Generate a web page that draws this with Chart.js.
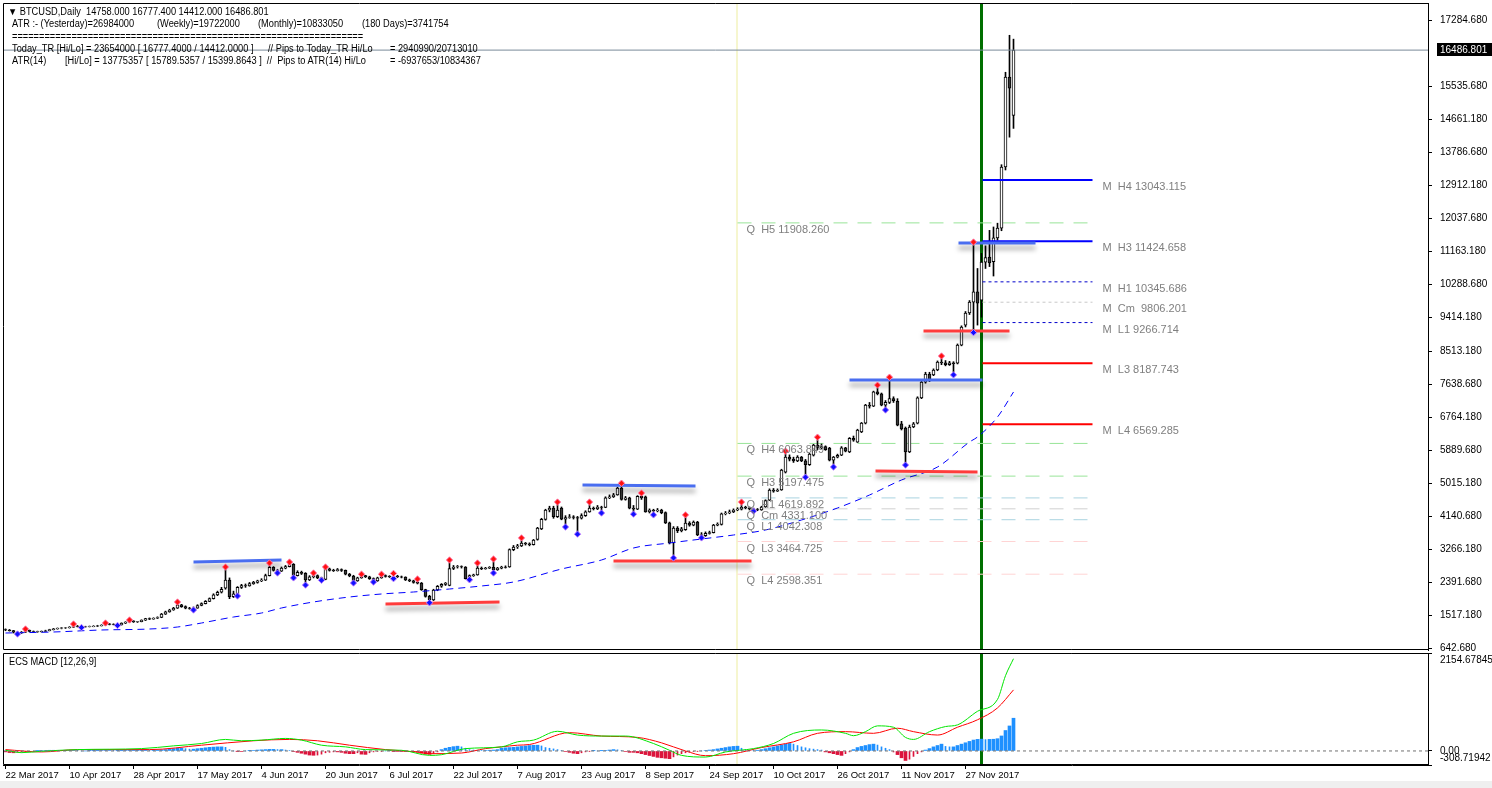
<!DOCTYPE html>
<html><head><meta charset="utf-8">
<script src="https://cdn.jsdelivr.net/npm/chart.js@4.4.1/dist/chart.umd.min.js"></script>
<style>
html,body{margin:0;padding:0;background:#fff;width:1492px;height:788px;overflow:hidden;position:relative;font-family:'Liberation Sans',Arial,sans-serif;}
#c1{position:absolute;left:0;top:0;}
#c2{position:absolute;left:0;top:652px;}
.t{position:absolute;font-size:10px;color:#000;white-space:pre;line-height:12px;transform:scaleX(0.925);transform-origin:0 0;}
#band{position:absolute;left:0;top:781px;width:1492px;height:7px;background:#efefef;}
</style></head><body>
<canvas id="c1" width="1492" height="652"></canvas>
<canvas id="c2" width="1492" height="136"></canvas>
<div id="band"></div>
<div class="t" style="left:8px;top:6px">▼ BTCUSD,Daily  14758.000 16777.400 14412.000 16486.801</div>
<div class="t" style="left:12px;top:18px">ATR :- (Yesterday)=26984000</div>
<div class="t" style="left:157px;top:18px">(Weekly)=19722000</div>
<div class="t" style="left:258px;top:18px">(Monthly)=10833050</div>
<div class="t" style="left:362px;top:18px">(180 Days)=3741754</div>
<div class="t" style="left:12px;top:31px">=================================================================</div>
<div class="t" style="left:12px;top:43px">Today_TR [Hi/Lo] = 23654000 [ 16777.4000 / 14412.0000 ]</div>
<div class="t" style="left:268px;top:43px">// Pips to Today_TR Hi/Lo</div>
<div class="t" style="left:390px;top:43px">= 2940990/20713010</div>
<div class="t" style="left:12px;top:55px">ATR(14)</div>
<div class="t" style="left:65px;top:55px">[Hi/Lo] = 13775357 [ 15789.5357 / 15399.8643 ]  //  Pips to ATR(14) Hi/Lo</div>
<div class="t" style="left:390px;top:55px">= -6937653/10834367</div>
<div class="t" style="left:9px;top:656px">ECS MACD [12,26,9]</div>
<script>
// ---------------- DATA ----------------
const dateLabels = ['22 Mar 2017','10 Apr 2017','28 Apr 2017','17 May 2017','4 Jun 2017','20 Jun 2017','6 Jul 2017','22 Jul 2017','7 Aug 2017','23 Aug 2017','8 Sep 2017','24 Sep 2017','10 Oct 2017','26 Oct 2017','11 Nov 2017','27 Nov 2017'];
const dateTickIdx = [0,16,32,48,64,80,96,112,128,144,160,176,192,208,224,240];
const priceTicks = [17284.680,15535.680,14661.180,13786.680,12912.180,12037.680,11163.180,10288.680,9414.180,8513.180,7638.680,6764.180,5889.680,5015.180,4140.680,3266.180,2391.680,1517.180,642.680];
const lastPrice = 16486.801;

const opens = [1130,1120,1105,1060,1040,1060,1110,1080,1070,1075, 1085,1100,1130,1150,1165,1175,1180,1195,1220,1215, 1200,1205,1210,1220,1230,1245,1280,1270,1265,1255, 1300,1330,1360,1335,1340,1380,1420,1410,1430,1450, 1540,1600,1650,1700,1790,1740,1700,1690,1700,1770, 1820,1880,1950,2050,2120,2230,2440,2000,2080,2250, 2300,2290,2350,2380,2420,2440,2560,2780,2700,2680, 2760,2800,2860,2560,2650,2620,2450,2530,2560,2500, 2460,2740,2700,2690,2720,2700,2600,2550,2420,2500, 2560,2530,2480,2420,2500,2560,2540,2530,2550,2530, 2520,2450,2420,2380,2360,2190,2010,1920,2180,2280, 2330,2300,2750,2790,2800,2790,2480,2560,2580,2760, 2740,2760,2780,2720,2760,2790,2790,3250,3320,3350, 3420,3400,3380,3520,3800,4050,4300,4350,4120,4350, 4060,4100,4120,4100,4080,4150,4250,4350,4330,4380, 4370,4620,4650,4700,4880,4580,4620,4350,4320,4660, 4650,4250,4300,4280,4300,4230,3960,3430,3820,3750, 3780,3950,3900,3980,3640,3620,3680,3700,3900,3920, 4200,4220,4250,4300,4320,4380,4360,4330,4310,4300, 4380,4560,4830,4800,4830,5300,5700,5650,5600,5700, 5600,5500,5750,6020,5950,5980,5940,5620,5700,5750, 5950,5840,6200,6100,6370,6600,7080,7050,7430,7380, 7080,7150,7250,7180,6580,6470,5840,6500,6600,7270, 7690,7900,7880,8010,8220,8200,8150,8200,8190,8670, 9200,9520,9810,10080,9860,10870,11000,10880,11510,11770, 13390,15770,14758];
const highs = [1150,1135,1110,1075,1080,1146,1120,1095,1090,1095, 1115,1140,1160,1175,1185,1190,1210,1278,1240,1225, 1220,1225,1235,1245,1260,1305,1290,1285,1275,1310, 1340,1385,1365,1350,1390,1430,1440,1445,1470,1560, 1620,1670,1720,1861,1800,1760,1720,1730,1790,1840, 1900,1970,2080,2150,2250,2790,2500,2150,2270,2330, 2340,2380,2410,2440,2480,2600,2895,2800,2730,2790, 2830,2920,2880,2690,2680,2640,2560,2630,2580,2520, 2790,2760,2730,2750,2740,2710,2620,2570,2520,2600, 2570,2545,2500,2520,2600,2580,2560,2620,2570,2550, 2530,2470,2440,2470,2380,2200,2040,2200,2300,2350, 2380,2975,2830,2830,2820,2800,2580,2600,2895,2790, 2780,2800,3000,2780,2810,2820,3270,3360,3390,3560, 3440,3430,3520,3840,4080,4320,4400,4400,4510,4380, 4150,4180,4150,4130,4200,4280,4510,4380,4420,4400, 4650,4700,4740,4900,5010,4660,4640,4420,4680,4750, 4670,4330,4320,4340,4320,4250,3980,3860,3860,3840, 4170,3990,4010,4000,3700,3720,3740,3920,3960,4220, 4260,4300,4330,4360,4510,4400,4380,4350,4340,4400, 4570,4860,4870,4860,5380,5860,5760,5700,5740,5720, 5640,5800,6040,6230,6050,6000,5960,5720,5780,5980, 5960,6220,6260,6440,6620,7100,7150,7450,7610,7400, 7200,7820,7300,7250,6650,6500,6550,6620,7300,7720, 7950,7950,8040,8250,8380,8260,8240,8230,8700,9180, 9560,9850,11400,10700,11100,11300,11710,11800,11900,13450, 15900,16880,16777.4];
const lows = [1100,1090,1040,1013,1030,1050,1070,1055,1060,1065, 1080,1095,1120,1140,1150,1160,1170,1185,1200,1185, 1195,1200,1205,1210,1225,1240,1255,1255,1240,1250, 1290,1320,1320,1320,1335,1370,1395,1405,1420,1445, 1530,1590,1640,1690,1720,1680,1670,1650,1695,1760, 1810,1870,1940,2030,2100,2200,1950,1980,2020,2220, 2250,2280,2330,2360,2400,2430,2550,2680,2630,2670, 2740,2790,2500,2550,2590,2310,2430,2500,2480,2440, 2450,2680,2670,2680,2670,2580,2530,2365,2410,2490, 2510,2460,2390,2410,2490,2520,2510,2480,2510,2500, 2430,2400,2360,2340,2170,1990,1840,1900,2160,2250, 2300,2290,2720,2760,2760,2470,2450,2540,2570,2720, 2730,2750,2630,2700,2740,2760,2780,3220,3280,3330, 3370,3350,3370,3500,3780,4030,4250,4080,4100,4040, 3850,4080,4060,3660,4060,4130,4240,4300,4310,4220, 4360,4600,4630,4690,4560,4560,4330,4190,4310,4580, 4240,4220,4170,4250,4200,3940,3400,3030,3700,3720, 3760,3870,3880,3620,3560,3600,3660,3690,3880,3900, 4170,4200,4230,4280,4300,4330,4300,4270,4280,4290, 4370,4550,4770,4790,4820,5280,5600,5560,5580,5580, 5170,5480,5730,5900,5920,5880,5600,5440,5680,5740, 5840,5820,6120,6090,6350,6580,7000,7040,7350,7060, 6950,7120,7150,6530,6420,5490,5820,6480,6580,7250, 7660,7700,7860,7990,8150,8120,8130,7880,8170,8650, 9150,9480,9000,9200,9410,10700,10750,10500,11450,11700, 13310,14180,14412];
const closes = [1120,1105,1060,1040,1060,1110,1080,1070,1075,1085, 1100,1130,1150,1165,1175,1180,1195,1220,1215,1200, 1205,1210,1220,1230,1245,1280,1270,1265,1255,1300, 1330,1360,1335,1340,1380,1420,1410,1430,1450,1540, 1600,1650,1700,1790,1740,1700,1690,1700,1770,1820, 1880,1950,2050,2120,2200,2440,2000,2080,2250,2300, 2290,2350,2380,2420,2440,2560,2780,2700,2680,2760, 2800,2870,2560,2650,2620,2450,2530,2560,2500,2460, 2740,2700,2690,2720,2700,2600,2550,2420,2500,2560, 2530,2480,2420,2500,2560,2540,2530,2550,2530,2520, 2450,2420,2380,2360,2190,2010,1920,2180,2280,2330, 2360,2750,2790,2800,2790,2480,2560,2580,2760,2740, 2760,2780,2720,2760,2790,2780,3250,3320,3350,3420, 3400,3380,3500,3820,4050,4300,4350,4120,4300,4060, 4100,4120,4100,4080,4150,4250,4350,4330,4380,4370, 4620,4650,4700,4880,4580,4620,4350,4320,4660,4620, 4250,4300,4280,4300,4230,3960,3430,3820,3750,3800, 3950,3900,3980,3640,3620,3680,3700,3900,3920,4200, 4220,4250,4300,4320,4380,4360,4330,4310,4300,4380, 4550,4830,4800,4820,5360,5700,5650,5600,5700,5600, 5500,5780,6020,5950,5980,5900,5620,5700,5750,5950, 5860,6200,6150,6420,6600,7080,7050,7430,7380,7080, 7150,7250,7200,6550,6450,5840,6500,6580,7270,7690, 7900,7750,8010,8220,8200,8150,8200,8180,8670,9150, 9520,9810,10080,9780,10870,10990,10850,11510,11770,13390, 15770,15480,16486.801];

const redFractals = [5,17,25,31,43,55,66,71,77,80,89,94,97,103,111,118,122,129,138,146,154,159,170,184,195,203,218,221,234,242];
const blueFractals = [3,19,28,47,58,68,72,75,79,87,92,97,106,116,122,140,143,149,157,162,167,174,187,200,207,220,225,237,242];

const maIdx  = [0,12,24,36,43,49,57,64,69,77,86,94,102,111,119,127,139,149,157,166,174,182,190,199,208,216,224,233,241,243,248,252];
const maVals = [1040,1067,1120,1146,1199,1305,1464,1570,1703,1862,1994,2074,2127,2206,2286,2392,2736,2975,3293,3425,3531,3637,3770,4035,4353,4697,5095,5439,6102,6234,6764,7427];

// support / resistance segments
const srStartIdx   = [47, 95, 144.25, 152, 211, 217.5, 229.5, 238.25];
const srEndIdx     = [69, 123.5, 172.5, 186.5, 244.25, 243, 251, 257.5];
const srStartPrice = [2921, 1810, 4962, 2948, 7745, 5333, 9043, 11375];
const srEndPrice   = [2975, 1863, 4936, 2948, 7745, 5307, 9043, 11375];
const srKind       = ['res','sup','res','sup','res','sup','sup','res'];

// pivot levels
const mLevelNames  = ['H4','H3','H1','Cm','L1','L3','L4'];
const mLevelValues = [13043.115,11424.658,10345.686,9806.201,9266.714,8187.743,6569.285];
const mLevelLabels = ['M  H4 13043.115','M  H3 11424.658','M  H1 10345.686','M  Cm  9806.201','M  L1 9266.714','M  L3 8187.743','M  L4 6569.285'];
const mLevelRange  = [244.25, 271.75];
const qLevelNames  = ['H5','H4','H3','H1','Cm','L1','L3','L4'];
const qLevelValues = [11908.260,6063.849,5197.475,4619.892,4331.100,4042.308,3464.725,2598.351];
const qLevelLabels = ['Q  H5 11908.260','Q  H4 6063.849','Q  H3 5197.475','Q  H1 4619.892','Q  Cm 4331.100','Q  L1 4042.308','Q  L3 3464.725','Q  L4 2598.351'];
const qLevelRange  = [183, 271.25];

const greenLineIdx = 243.75;
const yellowLineIdx = 183;

// MACD
const macdIdx  = [0,4,9,18,34,42,49,55,59,64,70,74,79,85,90,99,106,109,115,124,128,132,138,143,149,155,162,166,169,175,180,187,192,197,204,210,212,215,218,222,225,227,231,235,238,243,248,250,252];
const macdVals = [15,-37,-7,30,52,112,164,254,224,239,276,239,127,90,30,15,-97,-82,52,90,201,239,433,350,328,328,164,15,-97,-134,-22,52,164,388,462,388,336,425,552,522,298,254,425,537,574,873,1134,1656,2029];
const sigIdx   = [0,9,18,36,49,62,71,78,86,95,103,106,114,120,124,128,131,141,149,158,164,170,175,182,189,197,203,210,217,223,227,233,238,243,248,252];
const sigVals  = [30,-22,30,30,127,224,254,224,127,30,-22,-60,-45,52,90,127,142,403,328,298,179,0,-104,-60,75,201,388,425,388,500,425,350,522,686,947,1343];
const histVals = [-20,-35,-40,-30,-25,-15,-10,-5,5,10, 10,15,15,10,5,5,10,10,5,0, 0,5,5,5,10,10,10,5,5,5, 10,15,20,20,25,25,20,20,20,25, 30,40,50,60,60,50,40,40,50,60, 70,80,85,90,90,80,30,0,-5,-10, 0,5,10,20,25,30,35,35,30,30, 20,10,-10,-30,-50,-70,-90,-95,-90,-70, -40,-30,-20,-20,-30,-50,-60,-60,-40,-70, -75,-40,-20,-10,-5,0,5,-5,-10,-10, -10,-15,-20,-30,-50,-70,-75,-50,-20,30, 60,80,95,105,90,60,30,20,15,10, 10,15,20,30,60,70,75,80,90,100, 110,120,125,127,110,75,60,45,30,10, -10,-30,-50,-60,-40,-20,-5,5,0,5, 10,20,30,25,10,-10,-30,-30,-40,-60, -80,-100,-120,-140,-150,-160,-170,-130,-90,-60, -40,-20,-10,-5,0,10,20,30,45,60, 75,90,100,105,60,30,15,10,15,30, 50,70,90,110,130,150,165,150,120,90, 70,50,40,30,20,-20,-40,-60,-80,-97, -60,-20,30,75,100,120,140,150,130,90, 60,30,-22,-80,-150,-209,-180,-120,-60,-20, 20,52,90,120,150,100,90,90,120,150, 180,210,240,255,260,250,255,258,270,330, 450,550,720];
const macdMin = -308.71942, macdMax = 2154.67845;

// ---------------- CHART ----------------
const FONT = "'Liberation Sans', Arial, sans-serif";
Chart.defaults.font.family = FONT;
Chart.defaults.color = '#000';
const X_MIN = -0.625, X_MAX = 355.625;
const N = closes.length;
const idx = [...Array(N).keys()];

const shadowPlugin = {
  id:'shadowPlugin',
  beforeDatasetDraw(chart, args){ const ds = chart.data.datasets[args.index]; if(ds.shadow){ const c = chart.ctx; c.save(); c.shadowColor='rgba(0,0,0,0.38)'; c.shadowBlur=5; c.shadowOffsetY=5; } },
  afterDatasetDraw(chart, args){ const ds = chart.data.datasets[args.index]; if(ds.shadow){ chart.ctx.restore(); } }
};

function vlines(chart){
  const {ctx, chartArea:a, scales:{x}} = chart;
  ctx.save();
  const xy = x.getPixelForValue(yellowLineIdx);
  ctx.fillStyle = '#f6f6cf'; ctx.fillRect(Math.round(xy)-1, a.top, 2, a.bottom-a.top);
  const xg = x.getPixelForValue(greenLineIdx);
  ctx.fillStyle = '#006f00'; ctx.fillRect(Math.round(xg)-1, a.top, 3, a.bottom-a.top);
  ctx.restore();
}
function frame(chart){
  const {ctx, chartArea:a} = chart;
  ctx.save(); ctx.strokeStyle='#000'; ctx.lineWidth=1;
  ctx.beginPath();
  ctx.moveTo(a.right, a.top+0.5); ctx.lineTo(a.left+0.5, a.top+0.5); ctx.lineTo(a.left+0.5, a.bottom-0.5); ctx.lineTo(a.right, a.bottom-0.5);
  ctx.stroke(); ctx.restore();
}
function noPad(s){ s.paddingTop = 0; s.paddingBottom = 0; s.paddingLeft = 0; s.paddingRight = 0; }

const mainDeco = {
  id:'mainDeco',
  beforeDatasetsDraw(chart){ vlines(chart); },
  afterDraw(chart){
    const {ctx, chartArea:a, scales:{x, y}} = chart;
    frame(chart);
    ctx.save();
    ctx.textBaseline = 'middle'; ctx.textAlign='left';
    ctx.font = '10px ' + FONT; ctx.fillStyle = '#000';
    priceTicks.forEach(v => ctx.fillText(v.toFixed(3), a.right + 12, y.getPixelForValue(v)));
    ctx.font = '11px ' + FONT; ctx.fillStyle = '#7f7f7f';
    mLevelValues.forEach((v,k)=>{ ctx.fillText(mLevelLabels[k], x.getPixelForValue(mLevelRange[1]) + 10, y.getPixelForValue(v) + 7); });
    qLevelValues.forEach((v,k)=>{ ctx.fillText(qLevelLabels[k], x.getPixelForValue(qLevelRange[0]) + 9, y.getPixelForValue(v) + 7); });
    const yp = Math.round(y.getPixelForValue(lastPrice));
    ctx.fillStyle = '#000'; ctx.fillRect(a.right + 9, yp - 7, chart.width - a.right - 9, 13);
    ctx.fillStyle = '#fff'; ctx.font = '10px ' + FONT; ctx.fillText(lastPrice.toFixed(3), a.right + 12, yp);
    ctx.restore();
  }
};

function mStyle(n){
  if(n==='H4'||n==='H3') return {c:'#0000ff', w:2, d:[]};
  if(n==='H1'||n==='L1') return {c:'#0000cc', w:1, d:[3,3]};
  if(n==='Cm') return {c:'#c8c8c8', w:1, d:[3,3]};
  return {c:'#ff0000', w:2, d:[]};
}
function qStyle(n){
  if(n==='H5'||n==='H4'||n==='H3') return '#98e498';
  if(n==='H1'||n==='L1') return '#a9d4e0';
  if(n==='Cm') return '#d0d0d0';
  return '#ffd4d4';
}

const mainDatasets = [];
mainDatasets.push({type:'bar', data: idx.map(i=>({x:i, y:[lows[i], highs[i]]})), backgroundColor:'#000', borderWidth:0, barThickness:1, grouped:false, order:20});
mainDatasets.push({type:'bar', data: idx.map(i=>({x:i, y:[opens[i], closes[i]]})),
  backgroundColor: c => closes[c.dataIndex] >= opens[c.dataIndex] ? '#ffffff' : '#3a3a3a',
  borderColor:'#000', borderWidth:1, borderSkipped:false, barThickness:3, grouped:false, order:19});
qLevelValues.forEach((v,k)=>{
  mainDatasets.push({type:'line', data:[{x:qLevelRange[0], y:v},{x:qLevelRange[1], y:v}], borderColor:qStyle(qLevelNames[k]), borderWidth:1, borderDash:[14,10], pointRadius:0, order:25});
});
mLevelValues.forEach((v,k)=>{
  const s = mStyle(mLevelNames[k]);
  mainDatasets.push({type:'line', data:[{x:mLevelRange[0], y:v},{x:mLevelRange[1], y:v}], borderColor:s.c, borderWidth:s.w, borderDash:s.d, pointRadius:0, order:8});
});
mainDatasets.push({type:'line', data:[{x:X_MIN, y:lastPrice},{x:X_MAX, y:lastPrice}], borderColor:'#7a8a99', borderWidth:1, pointRadius:0, order:7});
mainDatasets.push({type:'line', data: maIdx.map((i,k)=>({x:i, y:maVals[k]})), borderColor:'#0000ff', borderWidth:1, borderDash:[7,5], pointRadius:0, tension:0.35, cubicInterpolationMode:'monotone', order:6});
srKind.forEach((kind,k)=>{
  mainDatasets.push({type:'line', shadow:true, data:[{x:srStartIdx[k], y:srStartPrice[k]},{x:srEndIdx[k], y:srEndPrice[k]}], borderColor: kind==='res' ? '#4a6ef0' : '#ff3c3c', borderWidth:3, pointRadius:0, order:5});
});
mainDatasets.push({type:'line', showLine:false, data: redFractals.map(i=>({x:i, y:highs[i]})), pointStyle:'rectRot', pointRadius:3.2, pointBackgroundColor:'#ff1010', pointBorderColor:'#ff80b0', pointBorderWidth:1, order:1});
mainDatasets.push({type:'line', showLine:false, data: blueFractals.map(i=>({x:i, y:lows[i]})), pointStyle:'rectRot', pointRadius:3.2, pointBackgroundColor:'#1010ff', pointBorderColor:'#c080ff', pointBorderWidth:1, order:1});

new Chart(document.getElementById('c1'), {
  type:'bar',
  data:{datasets: mainDatasets},
  options:{
    responsive:false, animation:false, events:[],
    layout:{autoPadding:false, padding:{left:3, top:3, right:0, bottom:2}},
    plugins:{legend:{display:false}, tooltip:{enabled:false}},
    scales:{
      x:{type:'linear', min:X_MIN, max:X_MAX, display:false, offset:false, grid:{offset:false}},
      y:{type:'linear', position:'right', min:589.7, max:17735.2,
         afterBuildTicks: s => { s.ticks = priceTicks.map(v=>({value:v})); },
         afterFit: s => { s.width = 64; noPad(s); },
         ticks:{display:false},
         grid:{drawOnChartArea:false, drawTicks:true, tickLength:4, color:'#000'},
         border:{display:true, color:'#000'}}
    }
  },
  plugins:[shadowPlugin, mainDeco]
});

// ---- MACD panel ----
const thick = idx.map(i => i===0 || Math.abs(histVals[i]) >= Math.abs(histVals[i-1]));
const histColor = c => (c.raw && c.raw.y >= 0) ? '#1e90ff' : '#dc143c';
const macdDeco = {
  id:'macdDeco',
  beforeDatasetsDraw(chart){ vlines(chart); },
  afterDraw(chart){
    const {ctx, chartArea:a, scales:{y}} = chart;
    frame(chart);
    ctx.save(); ctx.font='10px ' + FONT; ctx.fillStyle='#000'; ctx.textBaseline='middle'; ctx.textAlign='left';
    ctx.fillText(macdMax.toFixed(5), a.right+12, y.getPixelForValue(macdMax)+7);
    ctx.fillText('0.00', a.right+12, y.getPixelForValue(0));
    ctx.fillText(macdMin.toFixed(5), a.right+12, y.getPixelForValue(macdMin)-7);
    ctx.restore();
  }
};
new Chart(document.getElementById('c2'), {
  type:'bar',
  data:{datasets:[
    {type:'line', data:[{x:X_MIN,y:0},{x:X_MAX,y:0}], borderColor:'#707070', borderWidth:1, borderDash:[3,3], pointRadius:0, order:1},
    {type:'bar', data: idx.filter(i=>thick[i]).map(i=>({x:i, y:histVals[i]})), backgroundColor:histColor, borderWidth:0, barThickness:3, grouped:false, order:5},
    {type:'bar', data: idx.filter(i=>!thick[i]).map(i=>({x:i, y:histVals[i]})), backgroundColor:histColor, borderWidth:0, barThickness:1, grouped:false, order:5},
    {type:'line', data: sigIdx.map((i,k)=>({x:i, y:sigVals[k]})), borderColor:'#ff0000', borderWidth:1, pointRadius:0, tension:0.3, cubicInterpolationMode:'monotone', order:3},
    {type:'line', data: macdIdx.map((i,k)=>({x:i, y:macdVals[k]})), borderColor:'#00e600', borderWidth:1, pointRadius:0, tension:0.3, cubicInterpolationMode:'monotone', order:2}
  ]},
  options:{
    responsive:false, animation:false, events:[],
    layout:{autoPadding:false, padding:{left:3, top:1, right:0, bottom:0}},
    plugins:{legend:{display:false}, tooltip:{enabled:false}},
    scales:{
      x:{type:'linear', min:X_MIN, max:X_MAX, position:'bottom', offset:false,
         afterBuildTicks: s => { s.ticks = dateTickIdx.map(v=>({value:v})); },
         afterFit: s => { s.height = 23; noPad(s); },
         ticks:{align:'start', maxRotation:0, autoSkip:false, font:{size:9.5}, color:'#000', padding:1,
                callback: v => dateLabels[dateTickIdx.indexOf(v)]},
         grid:{drawOnChartArea:false, drawTicks:true, tickLength:4, color:'#000', offset:false},
         border:{display:true, color:'#000'}},
      y:{type:'linear', position:'right', min:macdMin, max:macdMax,
         afterBuildTicks: s => { s.ticks = [macdMin, 0, macdMax].map(v=>({value:v})); },
         afterFit: s => { s.width = 64; noPad(s); },
         ticks:{display:false},
         grid:{drawOnChartArea:false, drawTicks:true, tickLength:4, color:'#000'},
         border:{display:true, color:'#000'}}
    }
  },
  plugins:[macdDeco]
});
</script>
</body></html>
